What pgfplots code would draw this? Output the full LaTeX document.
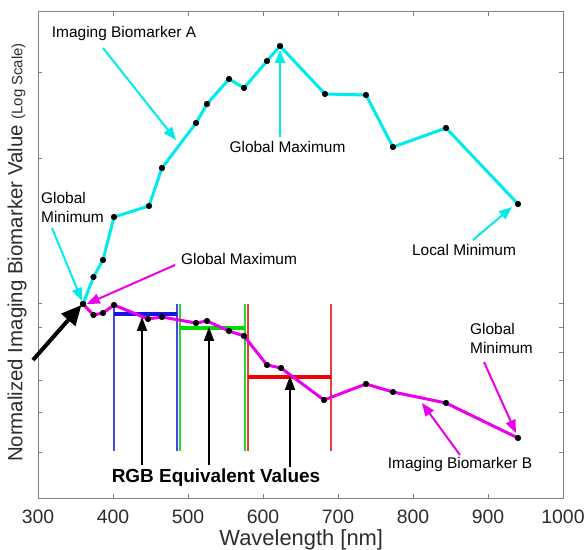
\documentclass[border=0pt]{standalone}
\usepackage{fontspec}
\setmainfont{Liberation Sans}
\usepackage{pgfplots}
\pgfplotsset{compat=1.18}
\usetikzlibrary{arrows.meta}
\definecolor{cy}{RGB}{0,235,235}
\definecolor{mg}{RGB}{235,0,235}
\definecolor{axgray}{RGB}{128,128,128}
\definecolor{txt}{RGB}{45,45,45}
\definecolor{rgbblue}{RGB}{20,20,230}
\definecolor{rgbgreen}{RGB}{0,220,0}
\definecolor{rgbred}{RGB}{240,0,0}
\definecolor{vblue}{RGB}{70,70,240}
\definecolor{vgreen}{RGB}{50,210,50}
\definecolor{vred}{RGB}{235,60,60}
\newcommand{\fs}[1]{\fontsize{#1}{#1}\selectfont}
\begin{document}
\begin{tikzpicture}
\useasboundingbox (0,0) rectangle (587bp,550bp);
\begin{axis}[
  at={(38bp,52bp)}, anchor=south west,
  scale only axis, width=525bp, height=486bp,
  xmin=300, xmax=1000, ymin=0, ymax=486,
  xtick={300,400,...,1000},
  ytick={46,86,118,146,171,195,340,426},
  yticklabels={},
  tick align=inside,
  major tick length=4bp,
  axis line style={axgray, line width=1bp},
  every tick/.style={axgray, line width=0.8bp},
  /pgf/number format/assume math mode=true,
  /pgf/number format/1000 sep={},
  xticklabel style={font=\fs{19.5}, text=txt, anchor=center, yshift=-19bp},
  clip=false,
]
% RGB equivalent bands
\addplot[vblue, line width=1.6bp] coordinates {(401,47) (401,194)};
\addplot[vblue, line width=1.6bp] coordinates {(485.3,47) (485.3,194)};
\addplot[rgbblue, line width=3.5bp] coordinates {(401,184) (485.3,184)};
\addplot[vgreen, line width=1.4bp] coordinates {(489.3,47) (489.3,194)};
\addplot[vgreen, line width=1.4bp] coordinates {(576,47) (576,194)};
\addplot[rgbgreen, line width=3.5bp] coordinates {(489.3,170) (576,170)};
\addplot[vred, line width=1.4bp] coordinates {(580,47) (580,194)};
\addplot[vred, line width=1.4bp] coordinates {(690.5,47) (690.5,194)};
\addplot[rgbred, line width=3.5bp] coordinates {(580,121) (690.5,121)};
% Imaging Biomarker A
\addplot[cy, line width=3bp, mark=*, mark size=2.8bp,
  mark options={fill=black, draw=black, line width=0.5bp}] coordinates {
(360,194) (374,221) (386.7,238) (401.3,281) (448,292) (465.3,330)
(510.7,375) (525.3,394) (554.7,419) (574.7,410) (605.3,437) (622.7,452)
(682.7,404) (737.3,403) (773.3,351) (844,370) (940,294)};
% Imaging Biomarker B
\addplot[mg, line width=3bp, mark=*, mark size=2.8bp,
  mark options={fill=black, draw=black, line width=0.5bp}] coordinates {
(360,194) (374,183) (386.7,185) (401.3,193) (446.7,179) (465.3,181)
(510.7,175) (525.3,177) (554.7,167) (574.7,162) (605.3,133) (624,130)
(681.3,98) (737.3,114) (773.3,106) (844,95) (940,60)};
% annotations
\tikzset{ann/.style={line width=2bp, -{Triangle[length=13bp,width=10bp]}},
  lab/.style={font=\fontsize{15.5}{19}\selectfont, text=black, inner sep=0pt}}
\node[lab] at (axis cs:414.7,464) {Imaging Biomarker A};
\draw[cy, ann] (axis cs:386.7,450) -- (axis cs:484,358);
\node[lab] at (axis cs:632.7,351) {Global Maximum};
\draw[cy, ann] (axis cs:622.7,361) -- (axis cs:622.7,448);
\node[lab, align=left, anchor=west] at (axis cs:304,290.5) {Global\\Minimum};
\draw[cy, ann] (axis cs:318.7,270) -- (axis cs:358.7,197);
\node[lab] at (axis cs:568,239) {Global Maximum};
\draw[mg, ann] (axis cs:482.7,233) -- (axis cs:365,194);
\draw[black, line width=4bp, -{Triangle[length=20bp,width=18bp]}] (axis cs:293.3,138) -- (axis cs:358,193);
\node[lab] at (axis cs:868,248) {Local Minimum};
\draw[cy, ann] (axis cs:880,258) -- (axis cs:932,291);
\node[lab, align=left, anchor=west] at (axis cs:876,159.5) {Global\\Minimum};
\draw[mg, ann] (axis cs:894.7,136) -- (axis cs:937.3,65);
\node[lab] at (axis cs:862.7,33) {Imaging Biomarker B};
\draw[mg, ann] (axis cs:862.7,43) -- (axis cs:812,95);
\node[font=\bfseries\fs{19}, text=black, inner sep=0pt] at (axis cs:537.3,20) {RGB Equivalent Values};
\draw[black, line width=2bp, -{Triangle[length=14bp,width=10bp]}] (axis cs:438.7,33) -- (axis cs:438.7,181);
\draw[black, line width=2bp, -{Triangle[length=14bp,width=10bp]}] (axis cs:528,33) -- (axis cs:528,171);
\draw[black, line width=2bp, -{Triangle[length=14bp,width=10bp]}] (axis cs:636,31) -- (axis cs:636,122);
% axis labels
\node[font=\fs{22}, text=txt, inner sep=0pt] at (axis cs:651,-42) {Wavelength [nm]};
\node[rotate=90, font=\fs{20.5}, text=txt, inner sep=0pt] at (axis cs:272,245.5) {Normalized Imaging Biomarker Value {\fs{15}(Log Scale)}};
\end{axis}
\end{tikzpicture}
\end{document}
